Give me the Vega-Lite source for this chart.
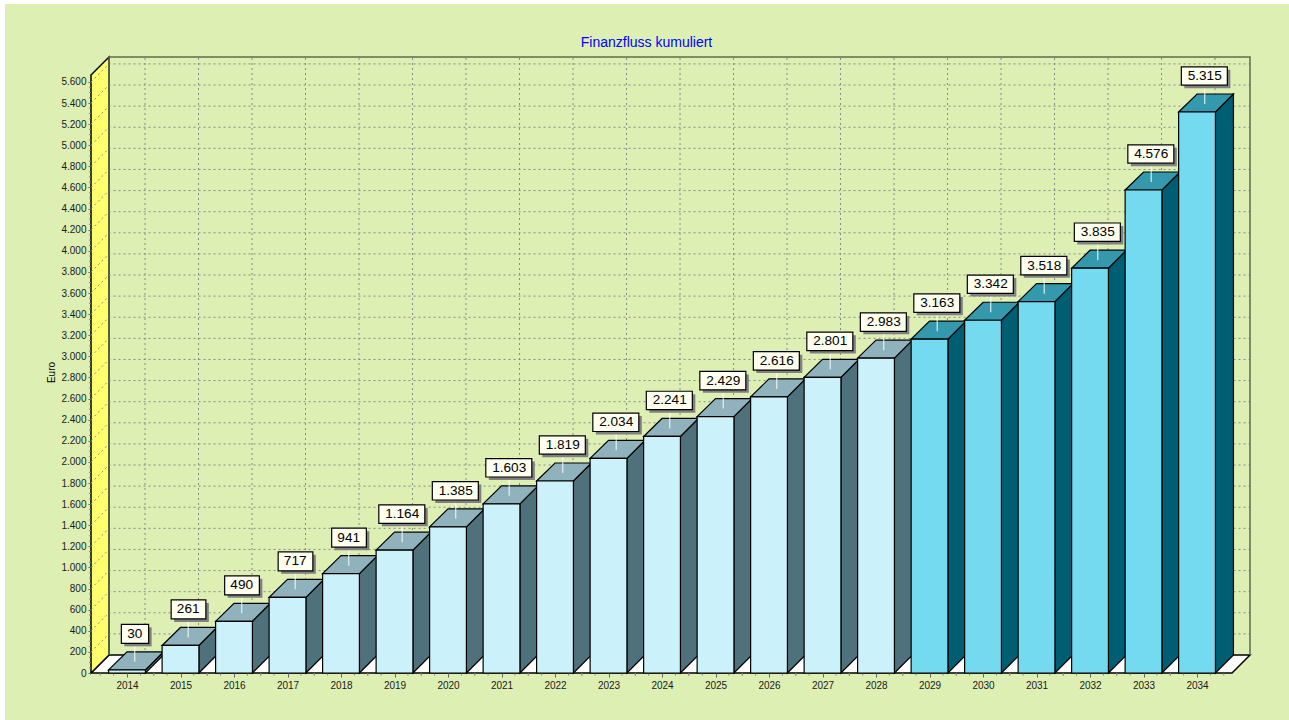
{
"$schema":"https://vega.github.io/schema/vega-lite/v6.json",
"width":1159,"height":616,
"autosize":"none",
"padding":{"left":91,"top":57,"right":39,"bottom":47},
"background":"#ffffff",
"title":{"text":"Finanzfluss kumuliert","color":"#0000ff","font":"Liberation Sans","fontSize":14,"fontWeight":"normal","anchor":"middle","dx":-24,"dy":55,"offset":9},
"config":{"view":{"stroke":null},"font":"Liberation Sans","scale":{"continuousPadding":0}},
"resolve":{"scale":{"fill":"independent"},"axis":{"x":"independent","y":"independent"}},
"datasets":{
"bars":[
{"year":2014,"value":30,"label":"30","phase":"A"},{"year":2015,"value":261,"label":"261","phase":"A"},{"year":2016,"value":490,"label":"490","phase":"A"},{"year":2017,"value":717,"label":"717","phase":"A"},{"year":2018,"value":941,"label":"941","phase":"A"},{"year":2019,"value":1164,"label":"1.164","phase":"A"},{"year":2020,"value":1385,"label":"1.385","phase":"A"},{"year":2021,"value":1603,"label":"1.603","phase":"A"},{"year":2022,"value":1819,"label":"1.819","phase":"A"},{"year":2023,"value":2034,"label":"2.034","phase":"A"},{"year":2024,"value":2241,"label":"2.241","phase":"A"},{"year":2025,"value":2429,"label":"2.429","phase":"A"},{"year":2026,"value":2616,"label":"2.616","phase":"A"},{"year":2027,"value":2801,"label":"2.801","phase":"A"},{"year":2028,"value":2983,"label":"2.983","phase":"A"},{"year":2029,"value":3163,"label":"3.163","phase":"B"},{"year":2030,"value":3342,"label":"3.342","phase":"B"},{"year":2031,"value":3518,"label":"3.518","phase":"B"},{"year":2032,"value":3835,"label":"3.835","phase":"B"},{"year":2033,"value":4576,"label":"4.576","phase":"B"},{"year":2034,"value":5315,"label":"5.315","phase":"B"}],
"ticks":[{"v":0},{"v":200},{"v":400},{"v":600},{"v":800},{"v":1000},{"v":1200},{"v":1400},{"v":1600},{"v":1800},{"v":2000},{"v":2200},{"v":2400},{"v":2600},{"v":2800},{"v":3000},{"v":3200},{"v":3400},{"v":3600},{"v":3800},{"v":4000},{"v":4200},{"v":4400},{"v":4600},{"v":4800},{"v":5000},{"v":5200},{"v":5400},{"v":5600}],
"origin":[{"x":2013.327,"y":0}]
},
"layer":[
{"data":{"name":"origin"},"mark":{"type":"point","shape":"M-86,47V-669H1198V47Z","size":4,"filled":true,"fill":"#deefb4","stroke":null,"opacity":1},
 "encoding":{"x":{"field":"x","type":"quantitative","scale":{"domain":[2013.327,2034.99],"nice":false,"zero":false},"axis":null},"y":{"field":"y","type":"quantitative","scale":{"domain":[0,5836],"nice":false},"axis":null}}},
{"data":{"name":"origin"},"mark":{"type":"point","shape":"M0,0L18,-18H1159L1141,0Z","size":4,"filled":true,"fill":"#ffffff","stroke":"#000000","strokeWidth":1.5,"opacity":1},
 "encoding":{"x":{"field":"x","type":"quantitative","scale":{"domain":[2013.327,2034.99],"nice":false,"zero":false},"axis":null},"y":{"field":"y","type":"quantitative","scale":{"domain":[0,5836],"nice":false},"axis":null}}},
{"data":{"name":"origin"},"mark":{"type":"point","shape":"M0,0L18,-18V-616L0,-598Z","size":4,"filled":true,"fill":"#ffff6e","stroke":"#000000","strokeWidth":1.5,"opacity":1},
 "encoding":{"x":{"field":"x","type":"quantitative","scale":{"domain":[2013.327,2034.99],"nice":false,"zero":false},"axis":null},"y":{"field":"y","type":"quantitative","scale":{"domain":[0,5836],"nice":false},"axis":null}}},
{"data":{"name":"ticks"},"transform":[{"filter":"datum.v>0"},{"calculate":"2013.327","as":"x"}],"mark":{"type":"point","shape":"M0,0L18,-18H1159","size":4,"filled":false,"stroke":"#8a8a8a","strokeWidth":1,"strokeDash":[2,3],"opacity":1},
 "encoding":{"x":{"field":"x","type":"quantitative","scale":{"domain":[2013.327,2034.99],"nice":false,"zero":false},"axis":null},"y":{"field":"v","type":"quantitative","scale":{"domain":[0,5836],"nice":false},"axis":null}}},
{"data":{"name":"bars"},"transform":[{"calculate":"0","as":"zero"}],"mark":{"type":"point","shape":"M18,-18V-616","size":4,"filled":false,"stroke":"#8a8a8a","strokeWidth":1,"strokeDash":[2,3],"opacity":1},
 "encoding":{"x":{"field":"year","type":"quantitative","scale":{"domain":[2013.327,2034.99],"nice":false,"zero":false},"axis":null},"y":{"field":"zero","type":"quantitative","scale":{"domain":[0,5836],"nice":false},"axis":null}}},
{"data":{"name":"origin"},"mark":{"type":"point","shape":"M18,-18V-616H1159V-18","size":4,"filled":false,"stroke":"#5f6e4e","strokeWidth":1.5,"opacity":1},
 "encoding":{"x":{"field":"x","type":"quantitative","scale":{"domain":[2013.327,2034.99],"nice":false,"zero":false},"axis":null},"y":{"field":"y","type":"quantitative","scale":{"domain":[0,5836],"nice":false},"axis":null}}},
{"data":{"name":"bars"},"transform":[{"calculate":"0","as":"zero"}],"mark":{"type":"point","shape":"M-26.75,0v2.5M-13.4,0v2.5M13.4,0v2.5M26.75,0v2.5","size":4,"filled":false,"stroke":"#808080","strokeWidth":1,"opacity":1},
 "encoding":{"x":{"field":"year","type":"quantitative","scale":{"domain":[2013.327,2034.99],"nice":false,"zero":false},"axis":null},"y":{"field":"zero","type":"quantitative","scale":{"domain":[0,5836],"nice":false},"axis":null}}},
{"data":{"name":"ticks"},"transform":[{"filter":"datum.v>0"},{"calculate":"2013.327","as":"x"}],"mark":{"type":"point","shape":"M0,5.28h-2M0,10.55h-2M0,15.83h-2","size":4,"filled":false,"stroke":"#808080","strokeWidth":1,"opacity":1},
 "encoding":{"x":{"field":"x","type":"quantitative","scale":{"domain":[2013.327,2034.99],"nice":false,"zero":false},"axis":null},"y":{"field":"v","type":"quantitative","scale":{"domain":[0,5836],"nice":false},"axis":null}}},
{"data":{"name":"bars"},"transform":[{"calculate":"datum.year+0.344","as":"a"},{"calculate":"datum.year+0.6804","as":"b"},{"fold":["a","b"],"as":["k","xs"]},{"calculate":"datum.k=='a'?datum.value:datum.value+170.5","as":"yt"},{"calculate":"datum.k=='a'?0:170.5","as":"yb"}],
 "mark":{"type":"area","stroke":"#000000","strokeWidth":1.2,"opacity":1},
 "encoding":{"x":{"field":"xs","type":"quantitative","scale":{"domain":[2013.327,2034.99],"nice":false,"zero":false},"axis":null},"y":{"field":"yt","type":"quantitative","stack":null,"scale":{"domain":[0,5836],"nice":false},"axis":null},"y2":{"field":"yb"},"detail":{"field":"year"},"fill":{"field":"phase","type":"nominal","scale":{"domain":["A","B"],"range":["#4f717b","#005e72"]},"legend":null}}},
{"data":{"name":"bars"},"mark":{"type":"point","shape":"M-18.4,0H18.4L36.4,-18H0Z","size":4,"filled":true,"stroke":"#000000","strokeWidth":1.2,"opacity":1},
 "encoding":{"x":{"field":"year","type":"quantitative","scale":{"domain":[2013.327,2034.99],"nice":false,"zero":false},"axis":null},"y":{"field":"value","type":"quantitative","scale":{"domain":[0,5836],"nice":false},"axis":null},"fill":{"field":"phase","type":"nominal","scale":{"domain":["A","B"],"range":["#8fb2bc","#3599ae"]},"legend":null}}},
{"data":{"name":"bars"},"mark":{"type":"bar","orient":"vertical","size":36.8,"stroke":"#000000","strokeWidth":1.2,"opacity":1},
 "encoding":{"x":{"field":"year","type":"quantitative","scale":{"domain":[2013.327,2034.99],"nice":false,"zero":false,"padding":0},"axis":null},"y":{"field":"value","type":"quantitative","stack":null,"scale":{"domain":[0,5836],"nice":false},"axis":null},"fill":{"field":"phase","type":"nominal","scale":{"domain":["A","B"],"range":["#cbf2fb","#74daf0"]},"legend":null}}},
{"data":{"name":"bars"},"mark":{"type":"point","shape":"M7.7,-27V-8","size":4,"filled":false,"stroke":"#ffffff","strokeWidth":1.3,"opacity":0.75},
 "encoding":{"x":{"field":"year","type":"quantitative","scale":{"domain":[2013.327,2034.99],"nice":false,"zero":false},"axis":null},"y":{"field":"value","type":"quantitative","scale":{"domain":[0,5836],"nice":false},"axis":null}}},
{"data":{"name":"bars"},"transform":[{"calculate":"length(datum.label)","as":"len"}],"mark":{"type":"point","xOffset":3,"yOffset":3,"size":4,"filled":true,"fill":"#808080","stroke":null,"opacity":1},
 "encoding":{"x":{"field":"year","type":"quantitative","scale":{"domain":[2013.327,2034.99],"nice":false,"zero":false},"axis":null},"y":{"field":"value","type":"quantitative","scale":{"domain":[0,5836],"nice":false},"axis":null},
 "shape":{"field":"len","type":"ordinal","scale":{"domain":[2,3,5],"range":["M-5.65,-45.5H21.65V-26.5H-5.65Z","M-9.35,-45.5H25.35V-26.5H-9.35Z","M-15.7,-45.2H30.3V-26.8H-15.7Z"]},"legend":null}}},
{"data":{"name":"bars"},"transform":[{"calculate":"length(datum.label)","as":"len"}],"mark":{"type":"point","size":4,"filled":true,"fill":"#fffff0","stroke":"#000000","strokeWidth":1.2,"opacity":1},
 "encoding":{"x":{"field":"year","type":"quantitative","scale":{"domain":[2013.327,2034.99],"nice":false,"zero":false},"axis":null},"y":{"field":"value","type":"quantitative","scale":{"domain":[0,5836],"nice":false},"axis":null},
 "shape":{"field":"len","type":"ordinal","scale":{"domain":[2,3,5],"range":["M-5.65,-45.5H21.65V-26.5H-5.65Z","M-9.35,-45.5H25.35V-26.5H-9.35Z","M-15.7,-45.2H30.3V-26.8H-15.7Z"]},"legend":null}}},
{"data":{"name":"bars"},"mark":{"type":"text","dx":7.7,"dy":-36,"baseline":"middle","align":"center","font":"Liberation Sans","fontSize":13.6,"fill":"#000000"},
 "encoding":{"x":{"field":"year","type":"quantitative","scale":{"domain":[2013.327,2034.99],"nice":false,"zero":false},"axis":null},"y":{"field":"value","type":"quantitative","scale":{"domain":[0,5836],"nice":false},"axis":null},"text":{"field":"label"}}},
{"data":{"name":"bars"},"mark":{"type":"point","opacity":0,"size":1},
 "encoding":{"x":{"field":"year","type":"quantitative","scale":{"domain":[2013.327,2034.99],"nice":false,"zero":false},
   "axis":{"title":null,"values":[2014,2015,2016,2017,2018,2019,2020,2021,2022,2023,2024,2025,2026,2027,2028,2029,2030,2031,2032,2033,2034],"format":"d","grid":false,"domain":false,"tickSize":4,"tickColor":"#666666","labelFont":"Liberation Sans","labelFontSize":10,"labelColor":"#1a1a1a","labelPadding":3,"labelOverlap":false,"labelFlush":false,"zindex":1}},
  "y":{"field":"value","type":"quantitative","scale":{"domain":[0,5836],"nice":false},
   "axis":{"title":"Euro","titleFont":"Liberation Sans","titleFontSize":10,"titleFontWeight":"normal","titleColor":"#000000","titleX":-35,"titleY":315,"values":[0,200,400,600,800,1000,1200,1400,1600,1800,2000,2200,2400,2600,2800,3000,3200,3400,3600,3800,4000,4200,4400,4600,4800,5000,5200,5400,5600],"labelExpr":"replace(format(datum.value,','),',','.')","grid":false,"domain":false,"tickSize":3,"tickColor":"#666666","labelFont":"Liberation Sans","labelFontSize":10,"labelColor":"#1a1a1a","labelPadding":2,"labelOverlap":false,"labelFlush":false,"zindex":1}}}}
]}
